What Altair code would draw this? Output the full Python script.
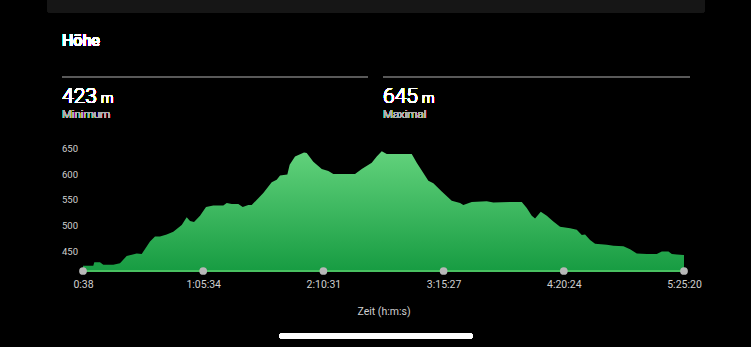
import altair as alt
import pandas as pd

# elapsed time in seconds, elevation in metres
t_sec = [38, 372, 404, 589, 696, 1020, 1237, 1454, 1779, 1941, 2210, 2372, 2534, 2751,
         2965, 3238, 3400, 3507, 3637, 3831, 4026, 4262, 4587, 4697, 4859, 5073, 5216,
         5397, 5507, 5883, 6155, 6317, 6425, 6662, 6737, 6911, 7203, 7290, 7504, 7777,
         7991, 8153, 8856, 9074, 9398, 9560, 9722, 9884, 10694, 10857, 11071, 11233,
         11395, 11667, 11991, 12260, 12367, 12640, 13126, 13340, 14206, 14261, 14423,
         14585, 14692, 14877, 15071, 15285, 15502, 15827, 16044, 16206, 16313, 16475,
         16637, 17016, 17232, 17556, 17772, 17989, 18314, 18638, 18800, 19016, 19125,
         19287, 19503, 19520]
elev = [423, 423, 430, 430, 425, 425, 428, 442, 447, 446, 470, 480, 480, 484,
        489, 502, 517, 510, 508, 520, 537, 540, 540, 545, 543, 543, 537,
        541, 541, 564, 585, 590, 598, 600, 619, 635, 643, 642, 625, 611,
        607, 601, 601, 611, 623, 635, 645, 640, 640, 623, 603, 588,
        583, 567, 549, 545, 541, 547, 548, 546, 547, 547, 535,
        520, 515, 528, 520, 509, 499, 496, 493, 483, 484, 473,
        466, 464, 462, 461, 455, 447, 446, 446, 451, 451, 446,
        445, 444, 444]

x_ticks = [38, 3934, 7831, 11727, 15624, 19520]
x_tick_labels = ["0:38", "1:05:34", "2:10:31", "3:15:27", "4:20:24", "5:25:20"]
y_ticks = [450, 500, 550, 600, 650]

title_text = "Höhe"
stat_values = ["423", "645"]
stat_units = ["m", "m"]
stat_labels = ["Minimum", "Maximal"]
x_title = "Zeit (h:m:s)"

Y_MIN, Y_MAX = 413, 667
X_MIN, X_MAX = 38, 19520
FONT = "Roboto"

df = pd.DataFrame({"t": t_sec, "h": elev})
ticks_df = pd.DataFrame({"t": x_ticks, "h": [Y_MIN] * len(x_ticks)})
yt_df = pd.DataFrame({"h": y_ticks, "lab": [str(v) for v in y_ticks]})

label_expr = "{" + ",".join(f"'{v}':'{l}'" for v, l in zip(x_ticks, x_tick_labels)) + "}[datum.value]"

xscale = alt.Scale(domain=[X_MIN, X_MAX], nice=False, zero=False)
yscale = alt.Scale(domain=[Y_MIN, Y_MAX], nice=False, zero=False)

area = alt.Chart(df).mark_area(
    interpolate="linear",
    line=False,
    fill=alt.Gradient(
        gradient="linear",
        stops=[alt.GradientStop(color="#62d27c", offset=0),
               alt.GradientStop(color="#179c42", offset=1)],
        x1=1, x2=1, y1=0, y2=1,
    ),
).encode(
    x=alt.X("t:Q", scale=xscale,
            axis=alt.Axis(values=x_ticks, labelExpr=label_expr, grid=False, domain=False,
                          ticks=False, labelPadding=8, labelFontSize=10.5,
                          labelColor="#d0d0d0", labelFont=FONT, title=x_title,
                          titleColor="#d0d0d0", titleFont=FONT, titleFontSize=10.5,
                          titleFontWeight="normal", titlePadding=17, labelFlush=False,
                          labelOverlap=False)),
    y=alt.Y("h:Q", scale=yscale, axis=None),
    y2=alt.datum(Y_MIN),
)

y_labels = alt.Chart(yt_df).mark_text(align="left", baseline="middle", fontSize=9.5,
                                      color="#d0d0d0", font=FONT).encode(
    x=alt.value(-21), y=alt.Y("h:Q", scale=yscale), text="lab:N"
)

baseline = alt.Chart(df).mark_rule(color="#49c062", strokeWidth=1.5).encode(
    x=alt.value(0), x2=alt.value(601), y=alt.value(131)
)

dots = alt.Chart(ticks_df).mark_circle(size=60, color="#b8b8b8", opacity=1).encode(
    x=alt.X("t:Q", scale=xscale), y=alt.Y("h:Q", scale=yscale)
)

# decorations (pixel positions relative to plot origin at left=83, top=140)
top_bar = alt.Chart(df).mark_rect(color="#161616", cornerRadius=3).encode(
    x=alt.value(-36), x2=alt.value(622), y=alt.value(-145), y2=alt.value(-127)
)
title = alt.Chart(df).mark_text(text=title_text, align="left", baseline="alphabetic",
                                fontSize=16, fontWeight=500, color="white",
                                font=FONT).encode(x=alt.value(-21), y=alt.value(-94))
sep1 = alt.Chart(df).mark_rule(color="#5a5a5a", strokeWidth=1).encode(
    x=alt.value(-21), x2=alt.value(285), y=alt.value(-63))
sep2 = alt.Chart(df).mark_rule(color="#5a5a5a", strokeWidth=1).encode(
    x=alt.value(300), x2=alt.value(607), y=alt.value(-63))

stats = []
for i, xpos in enumerate([-21, 300]):
    stats.append(alt.Chart(df).mark_text(text=stat_values[i], align="left", baseline="alphabetic",
                                         fontSize=21, fontWeight=300, color="white",
                                         font=FONT).encode(x=alt.value(xpos), y=alt.value(-37)))
    stats.append(alt.Chart(df).mark_text(text=stat_units[i], align="left", baseline="alphabetic",
                                         fontSize=14, fontWeight=300, color="white",
                                         font=FONT).encode(x=alt.value(xpos + 39), y=alt.value(-37)))
    stats.append(alt.Chart(df).mark_text(text=stat_labels[i], align="left", baseline="alphabetic",
                                         fontSize=11.5, fontWeight=300, color="#b0b0b0",
                                         font=FONT).encode(x=alt.value(xpos), y=alt.value(-22)))

home = alt.Chart(df).mark_rule(color="white", strokeWidth=5, strokeCap="round").encode(
    x=alt.value(199), x2=alt.value(387), y=alt.value(196))

chart = alt.layer(top_bar, title, sep1, sep2, *stats, area, y_labels, baseline, dots, home).properties(
    width=601, height=131,
    autosize=alt.AutoSizeParams(type="none"),
    padding={"left": 83, "top": 140, "right": 67, "bottom": 76},
    background="black",
).configure_view(strokeWidth=0)

chart.save("out.html", embed_options={"renderer": "svg", "actions": False})
